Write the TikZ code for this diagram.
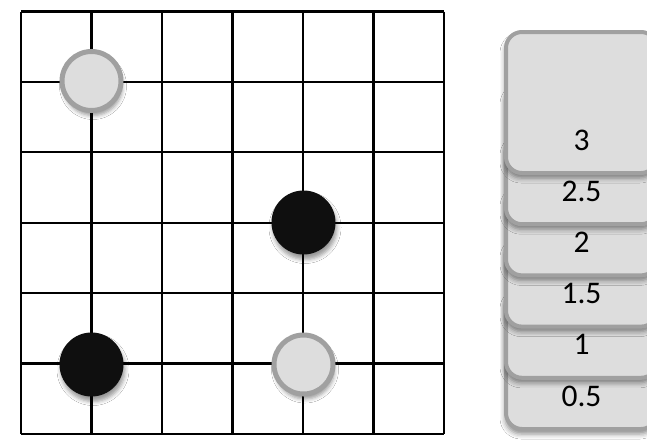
\documentclass[tikz,border=0pt]{standalone}
\usepackage{fontspec}
\setmainfont{Carlito}
\usetikzlibrary{shadows.blur}
\begin{document}
\begin{tikzpicture}[x=1pt,y=-1pt,
  gridline/.style={line width=2.3pt,black},
  stone/.style={circle,minimum size=59pt,inner sep=0pt,
    blur shadow={shadow xshift=1.5pt,shadow yshift=-5pt,shadow blur radius=4pt,shadow opacity=40}},
  whitestone/.style={stone,fill=stonefill,draw=stoneedge,line width=5pt},
  blackstone/.style={stone,fill=stoneblack,minimum size=64pt},
  card/.style={rectangle,rounded corners=16pt,fill=stonefill,draw=stoneedge,line width=4pt,
    minimum width=151pt,minimum height=141pt,inner sep=0pt,
    blur shadow={shadow xshift=-1pt,shadow yshift=-5pt,shadow blur radius=5pt,shadow opacity=45}},
  lbl/.style={font=\fontsize{31.5}{36}\selectfont,text=black,inner sep=0pt}
]
\definecolor{stonefill}{HTML}{DDDDDD}
\definecolor{stoneedge}{HTML}{A0A0A0}
\definecolor{stoneblack}{HTML}{0F0F0F}
\useasboundingbox (0,0) rectangle (647,447);
\fill[white] (0,0) rectangle (647,447);
% grid
\foreach \i in {0,...,6} {
  \draw[gridline] (21+70.5*\i,11.5) -- (21+70.5*\i,434);
  \draw[gridline] (21,11.5+70.4*\i) -- (444,11.5+70.4*\i);
}
% stones
\node[whitestone] (w1) at (91.5,81) {};
\node[blackstone] (b1) at (303.5,222.5) {};
\node[blackstone] (b2) at (91.5,364.5) {};
\node[whitestone] (w2) at (303.5,364.5) {};
% stacked cards
\foreach \n/\t/\b in {c1/0.5/433,c2/1/381.8,c3/1.5/330.6,c4/2/279.4,c5/2.5/228.2,c6/3/177} {
  \node[card,anchor=south west] (\n) at (504,\b-2) {};
  \node[lbl] (\n t) at ([yshift=35pt]\n.south) {\t};
}
\end{tikzpicture}
\end{document}
